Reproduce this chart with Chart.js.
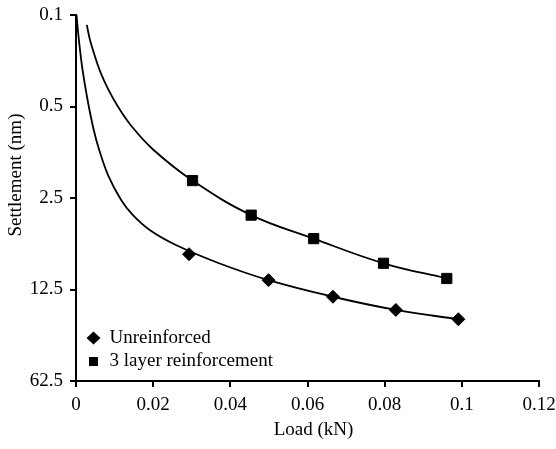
<!DOCTYPE html>
<html>
<head>
<meta charset="utf-8">
<script src="https://cdn.jsdelivr.net/npm/chart.js@4.4.1/dist/chart.umd.min.js"></script>
<style>
  html, body { margin: 0; padding: 0; background: #fff; }
  #wrap { width: 556px; height: 449px; }
</style>
</head>
<body>
<div id="wrap"><canvas id="settlementChart" width="556" height="449"></canvas></div>
<script>
// measured points
const loadUnreinforced = [0.0293, 0.0499, 0.0666, 0.0829, 0.0991];
const settleUnreinforced = [6.72, 10.6, 14.2, 17.9, 21.1];
const loadReinforced = [0.0302, 0.0454, 0.0616, 0.0797, 0.0961];
const settleReinforced = [1.84, 3.38, 5.11, 7.88, 10.3];

// fitted curves
const curveLoadUnreinforced = [0.00013, 0.00075, 0.0017, 0.0030, 0.0046, 0.0060, 0.0083, 0.0117, 0.0147, 0.0191, 0.0259, 0.0369, 0.0499, 0.0666, 0.0829, 0.0991];
const curveSettleUnreinforced = [0.1, 0.155, 0.263, 0.446, 0.756, 1.07, 1.67, 2.59, 3.37, 4.39, 5.72, 7.84, 10.6, 14.2, 17.9, 21.1];
const curveLoadReinforced = [0.0028, 0.0036, 0.0047, 0.0062, 0.0083, 0.0109, 0.0142, 0.0199, 0.0302, 0.0454, 0.0616, 0.0797, 0.0961];
const curveSettleReinforced = [0.119, 0.154, 0.198, 0.267, 0.367, 0.503, 0.695, 1.06, 1.84, 3.38, 5.11, 7.88, 10.3];

const xTicks = [0, 0.02, 0.04, 0.06, 0.08, 0.1, 0.12];
const xTickLabels = ["0", "0.02", "0.04", "0.06", "0.08", "0.1", "0.12"];
const yTicks = [0.1, 0.5, 2.5, 12.5, 62.5];
const yTickLabels = ["0.1", "0.5", "2.5", "12.5", "62.5"];

const seriesNames = ["Unreinforced", "3 layer reinforcement"];

function toPoints(xs, ys) {
    return xs.map((x, i) => ({ x: x, y: ys[i] }));
}

const FONT = "'Liberation Serif', 'Times New Roman', serif";

// axis titles + legend inside the plot
const overlay = {
    id: "overlay",
    afterDraw(chart) {
        const ctx = chart.ctx;
        const area = chart.chartArea;
        ctx.save();
        ctx.fillStyle = "#000";
        ctx.font = "19px " + FONT;
        ctx.textAlign = "center";
        ctx.textBaseline = "middle";
        ctx.fillText("Load (kN)", (area.left + area.right) / 2 + 6, 430);

        ctx.save();
        ctx.translate(16, 175);
        ctx.rotate(-Math.PI / 2);
        ctx.fillText("Settlement (nm)", 0, 0);
        ctx.restore();

        // legend
        const lx = area.left + 17.5;
        const y1 = area.bottom - 43;
        const y2 = area.bottom - 19.5;
        ctx.beginPath();
        ctx.moveTo(lx - 7, y1);
        ctx.lineTo(lx, y1 - 6.5);
        ctx.lineTo(lx + 7, y1);
        ctx.lineTo(lx, y1 + 6.5);
        ctx.closePath();
        ctx.fill();
        ctx.fillRect(lx - 4.5, y2 - 4.5, 9, 9);

        ctx.textAlign = "left";
        ctx.fillText(seriesNames[0], area.left + 33.5, y1);
        ctx.fillText(seriesNames[1], area.left + 33.5, y2);
        ctx.restore();
    }
};

const ctx = document.getElementById("settlementChart").getContext("2d");
const chart = new Chart(ctx, {
    type: "scatter",
    data: {
        datasets: [
            {
                label: seriesNames[0],
                data: toPoints(loadUnreinforced, settleUnreinforced),
                pointStyle: "rectRot",
                pointRadius: 6.5,
                backgroundColor: "#000",
                borderColor: "#000",
                borderWidth: 1,
                showLine: false
            },
            {
                label: seriesNames[1],
                data: toPoints(loadReinforced, settleReinforced),
                pointStyle: "rect",
                pointRadius: 7.2,
                backgroundColor: "#000",
                borderColor: "#000",
                borderWidth: 1,
                showLine: false
            },
            {
                label: "curve1",
                data: toPoints(curveLoadUnreinforced, curveSettleUnreinforced),
                showLine: true,
                pointRadius: 0,
                borderColor: "#000",
                borderWidth: 1.8,
                tension: 0.4,
                fill: false
            },
            {
                label: "curve2",
                data: toPoints(curveLoadReinforced, curveSettleReinforced),
                showLine: true,
                pointRadius: 0,
                borderColor: "#000",
                borderWidth: 1.8,
                tension: 0.4,
                fill: false
            }
        ]
    },
    options: {
        responsive: false,
        animation: false,
        devicePixelRatio: 1,
        layout: { padding: { top: 15, right: 17, left: 0, bottom: 0 } },
        plugins: {
            legend: { display: false },
            tooltip: { enabled: false }
        },
        scales: {
            x: {
                type: "linear",
                min: 0,
                max: 0.12,
                afterBuildTicks: (scale) => { scale.ticks = xTicks.map(v => ({ value: v })); },
                afterFit: (scale) => {
                    scale.height = 68;
                    scale.paddingLeft = 0;
                    scale.paddingRight = 0;
                },
                ticks: {
                    color: "#000",
                    font: { family: FONT, size: 19 },
                    padding: 7,
                    maxRotation: 0,
                    callback: (v, i) => xTickLabels[i]
                },
                grid: { display: true, drawOnChartArea: false, drawTicks: true, tickLength: 6, color: "#000", lineWidth: 2 },
                border: { display: true, color: "#000", width: 2 }
            },
            y: {
                type: "logarithmic",
                reverse: true,
                min: 0.1,
                max: 62.5,
                afterBuildTicks: (scale) => { scale.ticks = yTicks.map(v => ({ value: v })); },
                afterFit: (scale) => {
                    scale.width = 76;
                    scale.paddingTop = 0;
                    scale.paddingBottom = 0;
                },
                ticks: {
                    color: "#000",
                    font: { family: FONT, size: 19 },
                    padding: 7,
                    callback: (v, i) => yTickLabels[i]
                },
                grid: { display: true, drawOnChartArea: false, drawTicks: true, tickLength: 6, color: "#000", lineWidth: 2 },
                border: { display: true, color: "#000", width: 2 }
            }
        }
    },
    plugins: [overlay]
});
</script>
</body>
</html>
